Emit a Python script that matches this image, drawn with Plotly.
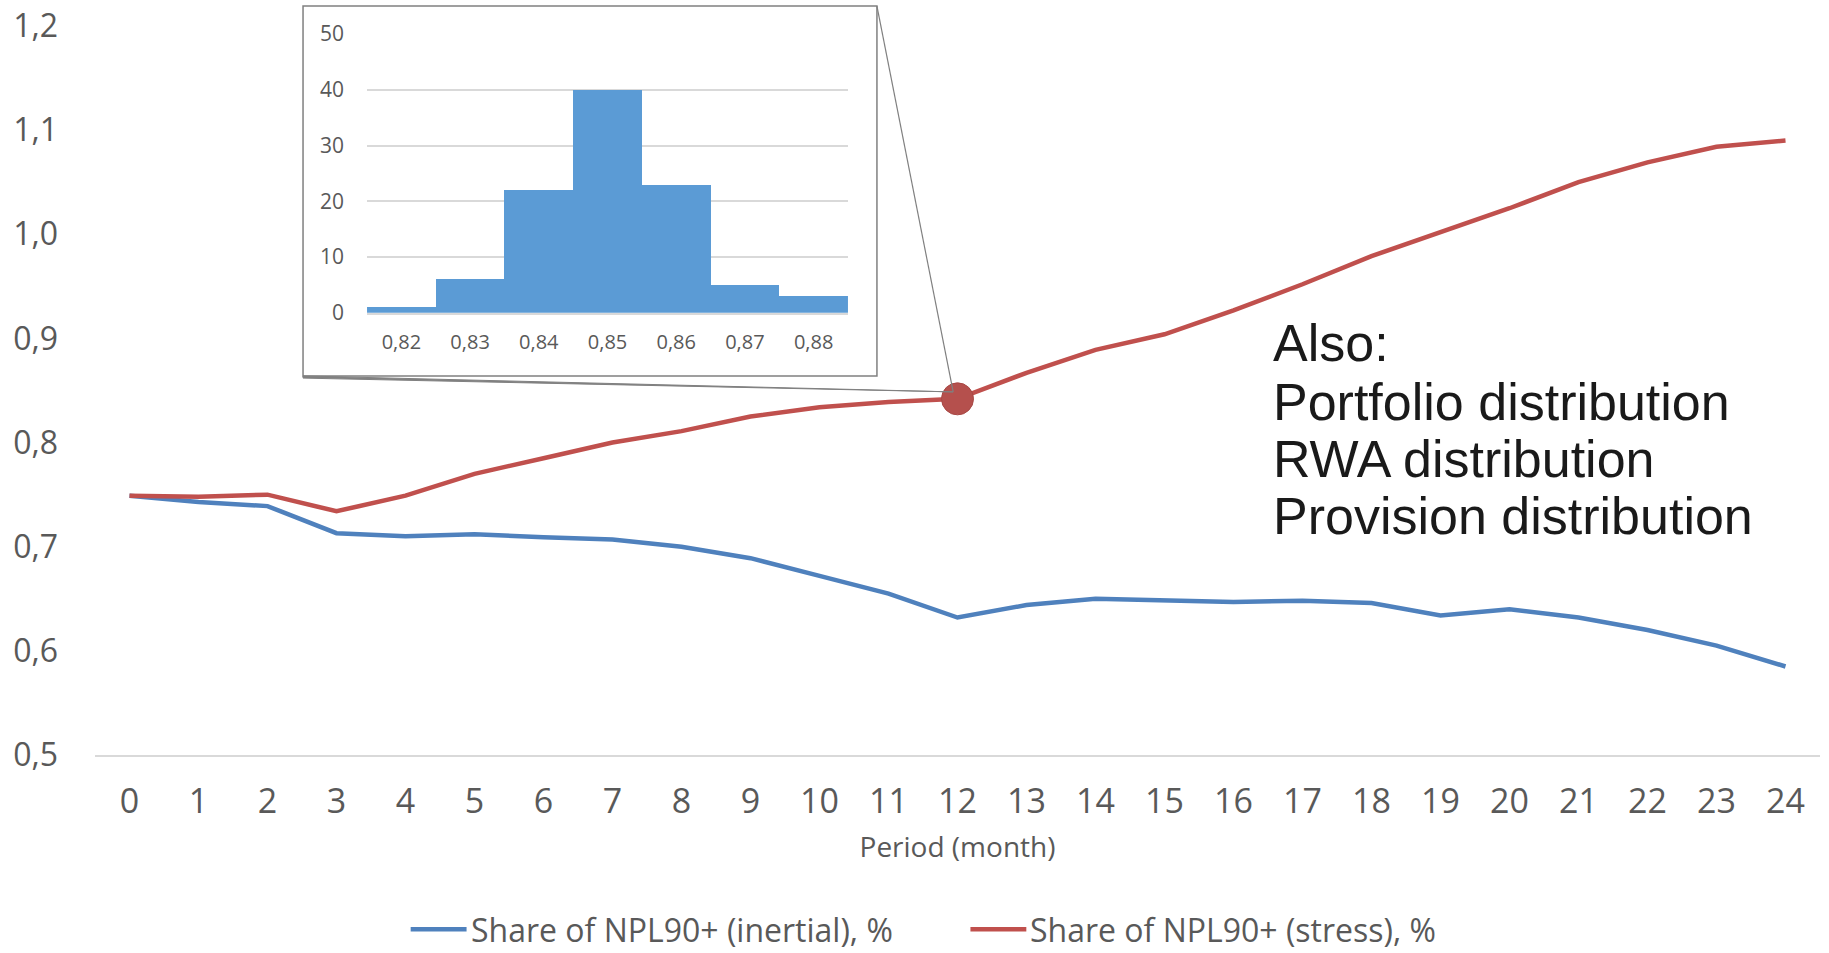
import plotly.graph_objects as go

# Monthly horizon
months = list(range(25))

# Share of NPL90+, %
npl_inertial = [0.749, 0.743, 0.739, 0.713, 0.710, 0.712, 0.709, 0.707, 0.700, 0.689,
                0.672, 0.655, 0.632, 0.644, 0.650, 0.648, 0.647, 0.648, 0.646, 0.634,
                0.640, 0.632, 0.620, 0.605, 0.585]
npl_stress = [0.749, 0.748, 0.750, 0.734, 0.749, 0.770, 0.785, 0.800, 0.811, 0.825,
              0.834, 0.839, 0.842, 0.867, 0.889, 0.904, 0.927, 0.952, 0.979, 1.002,
              1.025, 1.050, 1.069, 1.084, 1.090]
series_names = ["Share of NPL90+ (inertial), %", "Share of NPL90+ (stress), %"]

# Distribution of the stress value at month 12
hist_bins = [0.82, 0.83, 0.84, 0.85, 0.86, 0.87, 0.88]
hist_counts = [1, 6, 22, 40, 23, 5, 3]
hist_bin_labels = ["0,82", "0,83", "0,84", "0,85", "0,86", "0,87", "0,88"]

y_ticks = [0.5, 0.6, 0.7, 0.8, 0.9, 1.0, 1.1, 1.2]
y_tick_labels = ["0,5", "0,6", "0,7", "0,8", "0,9", "1,0", "1,1", "1,2"]

note_lines = ["Also:", "Portfolio distribution", "RWA distribution", "Provision distribution"]

focus_month = 12

BLUE = "#4F81BD"
RED = "#C0504D"
TICK = "#595959"
SANS = "Open Sans, sans-serif"

X_RANGE = [-0.5, 24.5]
Y_RANGE = [0.5, 1.2]

fig = go.Figure()

fig.add_trace(go.Scatter(
    x=months, y=npl_inertial, mode="lines", name=series_names[0],
    line=dict(color=BLUE, width=4.5), xaxis="x", yaxis="y"))
fig.add_trace(go.Scatter(
    x=months, y=npl_stress, mode="lines", name=series_names[1],
    line=dict(color=RED, width=4.5), xaxis="x", yaxis="y"))

# Highlighted point at month 12
fig.add_trace(go.Scatter(
    x=[months[focus_month]], y=[npl_stress[focus_month]], mode="markers",
    marker=dict(size=32, color="#B5504D", line=dict(color="#A84845", width=1)),
    hoverinfo="skip", xaxis="x", yaxis="y"))

# Inset histogram
fig.add_trace(go.Bar(
    x=hist_bins, y=hist_counts, width=0.01, marker=dict(color="#5B9BD5", line=dict(width=0)),
    xaxis="x2", yaxis="y2"))

inset_x = [0.1577, 0.4365]
inset_y = [0.6065, 0.989]
box_x = [0.1206, 0.4533]
box_y = [0.520, 1.0273]

# Callout tip located at the highlighted point
tip_x = (months[focus_month] - X_RANGE[0]) / (X_RANGE[1] - X_RANGE[0]) - 0.0025
tip_y = (npl_stress[focus_month] - Y_RANGE[0]) / (Y_RANGE[1] - Y_RANGE[0]) + 0.0095

shapes = [
    dict(type="rect", xref="paper", yref="paper", x0=box_x[0], x1=box_x[1],
         y0=box_y[0], y1=box_y[1], line=dict(color="#808080", width=1.5),
         fillcolor="white", layer="below"),
    dict(type="line", xref="paper", yref="paper", x0=box_x[1], y0=box_y[1],
         x1=tip_x, y1=tip_y, line=dict(color="#808080", width=1.2)),
    dict(type="path", xref="paper", yref="paper",
         path=f"M {box_x[0]} {box_y[0]} L {tip_x} {tip_y} L {box_x[0]} {box_y[0] - 0.003} Z",
         line=dict(color="#808080", width=1), fillcolor="#808080"),
]

annotations = []
for text, yy in zip(note_lines, [0.5648, 0.4848, 0.4065, 0.3280]):
    annotations.append(dict(
        text=text, xref="paper", yref="paper", x=0.6817, y=yy, xanchor="left",
        yanchor="middle", showarrow=False, align="left",
        font=dict(family="Liberation Sans, Arial, sans-serif", size=52, color="#1A1A1A")))

# Legend row below the axis title
legend_y = -0.2390
legend_items = [(series_names[0], BLUE, 0.1830), (series_names[1], RED, 0.5075)]
for name, color, x0 in legend_items:
    shapes.append(dict(type="line", xref="paper", yref="paper", x0=x0, x1=x0 + 0.0324,
                       y0=legend_y, y1=legend_y, line=dict(color=color, width=4.5)))
    annotations.append(dict(
        text=name, xref="paper", yref="paper", x=x0 + 0.0336, y=legend_y,
        xanchor="left", yanchor="middle", showarrow=False,
        font=dict(family=SANS, size=32, color=TICK)))

fig.update_layout(
    width=1829, height=953,
    margin=dict(l=95, r=9, t=26, b=198, autoexpand=False),
    paper_bgcolor="white", plot_bgcolor="rgba(0,0,0,0)",
    showlegend=False,
    xaxis=dict(range=X_RANGE, tickmode="array", tickvals=months,
               ticktext=[str(m) for m in months], showgrid=False, zeroline=False,
               showline=True, linecolor="#D9D9D9", linewidth=2,
               ticks="outside", ticklen=15, tickcolor="rgba(0,0,0,0)",
               tickfont=dict(family=SANS, size=34, color=TICK),
               title=dict(text="Period (month)", standoff=16,
                          font=dict(family=SANS, size=28, color=TICK))),
    yaxis=dict(range=Y_RANGE, tickmode="array", tickvals=y_ticks, ticktext=y_tick_labels,
               showgrid=False, zeroline=False, showline=False,
               ticklabelstandoff=36,
               tickfont=dict(family=SANS, size=32, color=TICK)),
    xaxis2=dict(domain=inset_x, anchor="y2", range=[0.815, 0.885], tickmode="array",
                tickvals=hist_bins, ticktext=hist_bin_labels, showgrid=False,
                zeroline=False, showline=True, linecolor="#D9D9D9", linewidth=1.5,
                ticks="outside", ticklen=10, tickcolor="rgba(0,0,0,0)",
                tickfont=dict(family=SANS, size=20, color=TICK)),
    yaxis2=dict(domain=inset_y, anchor="x2", range=[0, 50], tickmode="array",
                tickvals=[0, 10, 20, 30, 40, 50], showgrid=True, gridcolor="#D9D9D9",
                gridwidth=1.5, zeroline=False, showline=False, ticklabelstandoff=22,
                tickfont=dict(family=SANS, size=21, color=TICK)),
    bargap=0,
    shapes=shapes,
    annotations=annotations,
)

fig.write_html("out.html")
